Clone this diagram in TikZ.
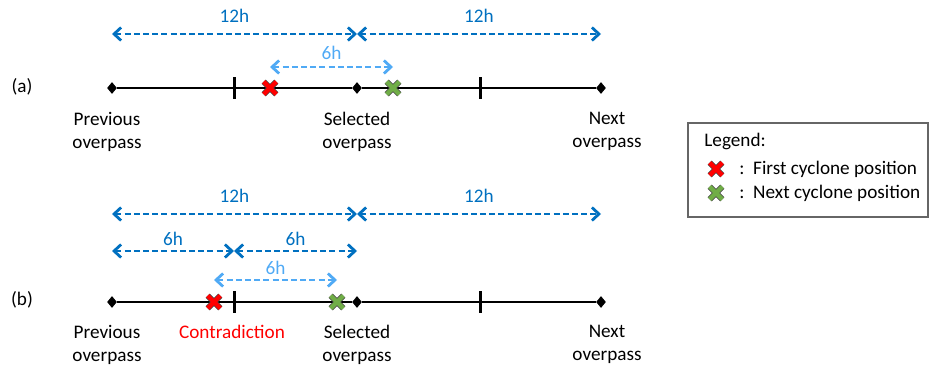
\documentclass[tikz,border=0pt]{standalone}
\usepackage{fontspec}
\setmainfont{Carlito}
\usetikzlibrary{arrows.meta,shapes.geometric,shapes.misc}
\definecolor{darkarr}{RGB}{0,112,192}
\definecolor{lightarr}{RGB}{80,170,245}
\definecolor{redx}{RGB}{255,0,0}
\definecolor{greenx}{RGB}{112,173,71}
\tikzset{
  overpass/.style={diamond, fill=black, inner sep=0pt, minimum width=5pt, minimum height=6pt},
  timeline/.style={line width=1.2pt},
  tickmark/.style={line width=1.5pt},
  hours/.style={dash pattern=on 3pt off 1.6pt, line width=1.2pt,
    {Straight Barb[length=3.5pt,width=6.5pt,line width=1.4pt]}-{Straight Barb[length=3.5pt,width=6.5pt,line width=1.4pt]}},
  cyclone/.style={cross out, draw=black!75, double=#1, double distance=2.2pt,
    line width=0.35pt, minimum size=6pt, inner sep=0pt},
  hlabel/.style={midway, inner sep=0pt},
  place/.style={anchor=north, align=center, inner sep=0pt},
}
\begin{document}
\begin{tikzpicture}[x=0.5pt, y=-0.5pt, font=\fontsize{9.6}{11.5}\selectfont]
  \useasboundingbox (0,0) rectangle (929,364);

  % (a)
  \node (tagA) at (22,87) {(a)};
  \node[overpass] (pa) at (112,88) {};
  \node[overpass] (sa) at (357,88) {};
  \node[overpass] (na) at (601,88) {};
  \coordinate (ta1) at (234,88);
  \coordinate (ta2) at (480,88);
  \draw[timeline] (pa) -- (sa) -- (na);
  \draw[tickmark] ([yshift=5.5pt]ta1) -- ([yshift=-5.5pt]ta1);
  \draw[tickmark] ([yshift=5.5pt]ta2) -- ([yshift=-5.5pt]ta2);
  \node[cyclone=redx] (fa) at (270,88) {};
  \node[cyclone=greenx] (ga) at (393,88) {};
  \draw[hours, darkarr] (pa |- 0,34) -- (sa |- 0,34) node[hlabel, above=5pt] {12h};
  \draw[hours, darkarr] (sa |- 0,34) -- (na |- 0,34) node[hlabel, above=5pt] {12h};
  \draw[hours, lightarr] (fa |- 0,67) -- (ga |- 0,67) node[hlabel, above=3pt] {6h};
  \node[place] (prevA) at ([xshift=-2.5pt, yshift=-12pt]pa) {Previous\\overpass};
  \node[place] (selA) at ([yshift=-12pt]sa) {Selected\\overpass};
  \node[place] (nextA) at ([xshift=3pt, yshift=-12pt]na) {Next\\overpass};

  % (b)
  \node (tagB) at (22,300) {(b)};
  \node[overpass] (pb) at (112,302) {};
  \node[overpass] (sb) at (357,302) {};
  \node[overpass] (nb) at (601,302) {};
  \coordinate (tb1) at (234,302);
  \coordinate (tb2) at (480,302);
  \draw[timeline] (pb) -- (sb) -- (nb);
  \draw[tickmark] ([yshift=5.5pt]tb1) -- ([yshift=-5.5pt]tb1);
  \draw[tickmark] ([yshift=5.5pt]tb2) -- ([yshift=-5.5pt]tb2);
  \node[cyclone=redx] (fb) at (214,302) {};
  \node[cyclone=greenx] (gb) at (337,302) {};
  \draw[hours, darkarr] (pb |- 0,214) -- (sb |- 0,214) node[hlabel, above=5pt] {12h};
  \draw[hours, darkarr] (sb |- 0,214) -- (nb |- 0,214) node[hlabel, above=5pt] {12h};
  \draw[hours, darkarr] (pb |- 0,251) -- (tb1 |- 0,251) node[hlabel, above=2pt] {6h};
  \draw[hours, darkarr] (tb1 |- 0,251) -- (sb |- 0,251) node[hlabel, above=2pt] {6h};
  \draw[hours, lightarr] (fb |- 0,280) -- (gb |- 0,280) node[hlabel, above=2pt] {6h};
  \node[place] (prevB) at ([xshift=-2.5pt, yshift=-11.5pt]pb) {Previous\\overpass};
  \node[place] (selB) at ([yshift=-11.5pt]sb) {Selected\\overpass};
  \node[place] (nextB) at ([xshift=3pt, yshift=-11.5pt]nb) {Next\\overpass};
  \node[place, text=redx] (contra) at (232,0 |- prevB.north) {Contradiction};

  % legend
  \node[draw=black!60, line width=0.6pt, minimum width=120pt, minimum height=47pt,
    inner sep=0pt] (legend) at (808,170) {};
  \node[anchor=west, inner sep=0pt] (legtitle) at (704,141) {Legend:};
  \node[cyclone=redx] (legred) at (716,169) {};
  \node[anchor=west, inner sep=0pt] (legfirst) at (739,169) {:\ \ First cyclone position};
  \node[cyclone=greenx] (leggreen) at (716,193) {};
  \node[anchor=west, inner sep=0pt] (legnext) at (739,193) {:\ \ Next cyclone position};
\end{tikzpicture}
\end{document}
